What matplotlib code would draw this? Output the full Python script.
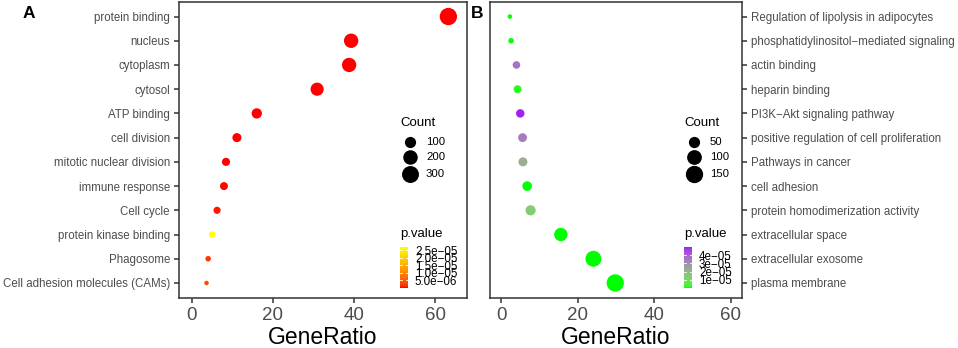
import numpy as np
import matplotlib
matplotlib.use("Agg")
import matplotlib.pyplot as plt
from matplotlib.colors import LinearSegmentedColormap, Normalize

plt.rcParams['font.family'] = ['Liberation Sans', 'DejaVu Sans']

# ---------------- data ----------------
terms_a = ["protein binding", "nucleus", "cytoplasm", "cytosol", "ATP binding",
           "cell division", "mitotic nuclear division", "immune response",
           "Cell cycle", "protein kinase binding", "Phagosome",
           "Cell adhesion molecules (CAMs)"]
ratio_a = [63.3, 39.3, 38.8, 30.9, 16.0, 11.1, 8.4, 7.9, 6.2, 5.0, 4.0, 3.6]
count_a = [317, 197, 194, 155, 80, 56, 42, 40, 31, 25, 20, 18]
pval_a = [1e-12, 1e-10, 1e-11, 1e-9, 1e-8, 5e-8, 1e-7, 2e-7, 6e-7, 2.7e-05, 2.0e-06, 3.5e-06]

terms_b = ["Regulation of lipolysis in adipocytes",
           "phosphatidylinositol\u2212mediated signaling", "actin binding",
           "heparin binding", "PI3K\u2212Akt signaling pathway",
           "positive regulation of cell proliferation", "Pathways in cancer",
           "cell adhesion", "protein homodimerization activity",
           "extracellular space", "extracellular exosome", "plasma membrane"]
ratio_b = [2.3, 2.6, 4.0, 4.3, 5.0, 5.6, 5.7, 6.8, 7.7, 15.6, 24.1, 29.8]
count_b = [12, 13, 20, 22, 25, 28, 29, 34, 39, 78, 121, 149]
pval_b = [2e-7, 5e-7, 3.7e-05, 1e-6, 5.0e-05, 3.5e-05, 2.2e-05, 1e-7, 1.4e-05, 1e-9, 1e-11, 1e-12]

size_breaks_a = [100, 200, 300]
size_breaks_b = [50, 100, 150]
cbar_ticks_a = [5e-06, 1e-05, 1.5e-05, 2e-05, 2.5e-05]
cbar_labels_a = ["5.0e\u221206", "1.0e\u221205", "1.5e\u221205", "2.0e\u221205", "2.5e\u221205"]
cbar_ticks_b = [1e-05, 2e-05, 3e-05, 4e-05]
cbar_labels_b = ["1e\u221205", "2e\u221205", "3e\u221205", "4e\u221205"]

# ---------------- helpers ----------------
def _srgb_to_lab(rgb):
    rgb = np.asarray(rgb, float)
    lin = np.where(rgb <= 0.04045, rgb / 12.92, ((rgb + 0.055) / 1.055) ** 2.4)
    M = np.array([[0.4124, 0.3576, 0.1805], [0.2126, 0.7152, 0.0722], [0.0193, 0.1192, 0.9505]])
    xyz = M @ lin
    wp = np.array([0.95047, 1.0, 1.08883])
    t = xyz / wp
    f = np.where(t > (6 / 29) ** 3, np.cbrt(t), t / (3 * (6 / 29) ** 2) + 4 / 29)
    return np.array([116 * f[1] - 16, 500 * (f[0] - f[1]), 200 * (f[1] - f[2])])

def _lab_to_srgb(lab):
    L, a, b = lab
    fy = (L + 16) / 116
    fx = fy + a / 500
    fz = fy - b / 200
    def finv(f):
        return f ** 3 if f > 6 / 29 else 3 * (6 / 29) ** 2 * (f - 4 / 29)
    wp = np.array([0.95047, 1.0, 1.08883])
    xyz = np.array([finv(fx), finv(fy), finv(fz)]) * wp
    Minv = np.array([[3.2406, -1.5372, -0.4986], [-0.9689, 1.8758, 0.0415], [0.0557, -0.2040, 1.0570]])
    lin = Minv @ xyz
    lin = np.clip(lin, 0, 1)
    srgb = np.where(lin <= 0.0031308, 12.92 * lin, 1.055 * lin ** (1 / 2.4) - 0.055)
    return np.clip(srgb, 0, 1)

def lab_cmap(c_low, c_high, name):
    l0 = _srgb_to_lab(c_low)
    l1 = _srgb_to_lab(c_high)
    cols = [_lab_to_srgb(l0 + (l1 - l0) * t) for t in np.linspace(0, 1, 64)]
    return LinearSegmentedColormap.from_list(name, cols)

cmap_a = lab_cmap((1, 0, 0), (1, 1, 0), "ry")
cmap_b = lab_cmap((0, 1, 0), (160 / 255, 32 / 255, 240 / 255), "gp")

DPI = 100
W, H = 958, 348

def diam_px(c, cmin, cmax):
    c = np.clip(np.asarray(c, float), cmin, cmax)
    return 4.5 + 12.8 * np.sqrt((c - cmin) / (cmax - cmin))

def s_of(c, cmin, cmax):
    return (diam_px(c, cmin, cmax) * 72 / DPI) ** 2

fig = plt.figure(figsize=(W / DPI, H / DPI), dpi=DPI)

def px_rect(x0, y0, x1, y1):
    return [x0 / W, 1 - y1 / H, (x1 - x0) / W, (y1 - y0) / H]

border = "#333333"
txtc = "#4D4D4D"

def style(ax, xlim, right=False):
    ax.set_xlim(*xlim)
    ax.set_ylim(11.6, -0.6)
    for sp in ax.spines.values():
        sp.set_color(border)
        sp.set_linewidth(1.1)
    ax.tick_params(axis='both', colors=border, length=3.5, width=1.1)
    ax.tick_params(axis='y', labelsize=8.3, labelcolor=txtc, pad=3)
    ax.tick_params(axis='x', labelsize=13.5, labelcolor=txtc, pad=3)
    ax.set_xticks([0, 20, 40, 60])
    ax.set_xlabel("GeneRatio", fontsize=16.5, color="black", labelpad=2)
    if right:
        ax.yaxis.tick_right()
        ax.yaxis.set_label_position("right")

# Panel A
axA = fig.add_axes(px_rect(179, 2, 467, 297.5))
normA = Normalize(min(pval_a), max(pval_a))
axA.scatter(ratio_a, terms_a, s=s_of(count_a, min(count_a), max(count_a)),
            c=pval_a, cmap=cmap_a, norm=normA, linewidths=0, zorder=3)
style(axA, (-3.2, 67.9))

# Panel B
axB = fig.add_axes(px_rect(490, 2, 742, 297.5))
normB = Normalize(min(pval_b), max(pval_b))
axB.scatter(ratio_b, terms_b, s=s_of(count_b, min(count_b), max(count_b)),
            c=pval_b, cmap=cmap_b, norm=normB, linewidths=0, zorder=3)
style(axB, (-2.9, 62.9), right=True)

# Overlay for legends (pixel coordinates)
ov = fig.add_axes([0, 0, 1, 1])
ov.set_xlim(0, W)
ov.set_ylim(H, 0)
ov.axis('off')
ov.patch.set_alpha(0)

def size_legend(x0, breaks, cmin, cmax):
    ov.text(x0, 123, "Count", fontsize=9.5, ha='left', va='center', color='black')
    ys = [142, 157, 174]
    for b, y in zip(breaks, ys):
        ov.scatter([x0 + 10], [y], s=s_of(b, cmin, cmax), color='black', linewidths=0)
        ov.text(x0 + 26, y, str(b), fontsize=8.2, ha='left', va='center', color='black')

size_legend(400, size_breaks_a, min(count_a), max(count_a))
size_legend(684, size_breaks_b, min(count_b), max(count_b))

def color_legend(x0, cmap, norm, ticks, labels):
    ov.text(x0, 234, "p.value", fontsize=9.5, ha='left', va='center', color='black')
    cax = fig.add_axes(px_rect(x0, 247, x0 + 8, 288))
    grad = np.linspace(norm.vmin, norm.vmax, 200).reshape(-1, 1)
    cax.imshow(grad, cmap=cmap, norm=norm, aspect='auto', origin='lower',
               extent=[0, 1, norm.vmin, norm.vmax])
    cax.set_xlim(0, 1)
    cax.set_ylim(norm.vmin, norm.vmax)
    for t in ticks:
        cax.plot([0, 0.2], [t, t], color='white', lw=0.6)
        cax.plot([0.8, 1], [t, t], color='white', lw=0.6)
    cax.set_xticks([])
    cax.set_yticks(ticks)
    cax.set_yticklabels(labels)
    cax.yaxis.tick_right()
    cax.tick_params(axis='y', length=0, labelsize=8.4, pad=5, labelcolor='black')
    for sp in cax.spines.values():
        sp.set_visible(False)

color_legend(400, cmap_a, normA, cbar_ticks_a, cbar_labels_a)
color_legend(684, cmap_b, normB, cbar_ticks_b, cbar_labels_b)

fig.text(23 / W, 1 - 13 / H, "A", fontsize=12.5, fontweight='bold', ha='left', va='center')
fig.text(471 / W, 1 - 13 / H, "B", fontsize=12.5, fontweight='bold', ha='left', va='center')

fig.savefig("out.png", dpi=DPI)
